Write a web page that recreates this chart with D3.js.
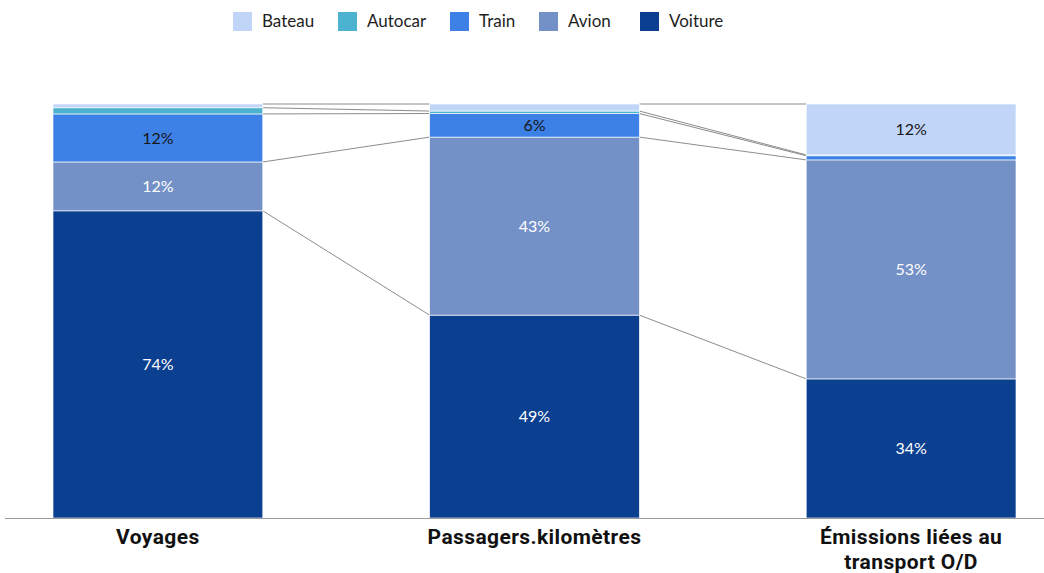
<!DOCTYPE html>
<html>
<head>
<meta charset="utf-8">
<script src="https://cdn.jsdelivr.net/npm/d3@7"></script>
<style>
	body { margin: 0; background: #fff; }
	svg { display: block; }
</style>
</head>
<body>
<div id="chart"></div>
<script>
// categories (x) and modes (stack order, bottom to top)
const categories = ["Voyages", "Passagers.kilomètres", "Émissions liées au|transport O/D"];
const modes = ["Voiture", "Avion", "Train", "Autocar", "Bateau"];
const legendOrder = ["Bateau", "Autocar", "Train", "Avion", "Voiture"];

// shares in %
const voiture = [74.2, 49.0, 33.6];
const avion = [11.8, 43.0, 52.9];
const train = [11.6, 5.7, 1.0];
const autocar = [1.5, 0.6, 0.2];
const bateau = [0.9, 1.7, 12.3];

const colors = {
	Bateau: "#c1d5f9",
	Autocar: "#4bb3d0",
	Train: "#3d81e6",
	Avion: "#7390c7",
	Voiture: "#0b3f8f"
};
const darkText = {Bateau: true, Autocar: true, Train: true, Avion: false, Voiture: false};

const width = 1044, height = 573;
const margin = {top: 104, bottom: 55, left: 53, right: 28};

const svg = d3.select("#chart").append("svg")
	.attr("width", width)
	.attr("height", height);

const seriesValues = {Voiture: voiture, Avion: avion, Train: train, Autocar: autocar, Bateau: bateau};
const table = categories.map((c, i) => {
	let row = {cat: c};
	modes.forEach(m => row[m] = seriesValues[m][i]);
	return row;
});

const stack = d3.stack().keys(modes)(table);

const x = d3.scaleBand()
	.domain(categories)
	.range([margin.left, width - margin.right])
	.paddingInner(0.443)
	.paddingOuter(0);

const y = d3.scaleLinear()
	.domain([0, 100])
	.range([height - margin.bottom, margin.top]);

// connectors between bars
const connectors = svg.append("g");
stack.forEach(layer => {
	for (let i = 0; i < categories.length - 1; i++) {
		connectors.append("line")
			.attr("x1", x(categories[i]) + x.bandwidth())
			.attr("x2", x(categories[i + 1]))
			.attr("y1", y(layer[i][1]))
			.attr("y2", y(layer[i + 1][1]))
			.attr("stroke", "#8c8c8c")
			.attr("stroke-width", 1);
	}
});

// bars
const layers = svg.append("g")
	.selectAll("g")
	.data(stack)
	.enter()
	.append("g")
	.attr("fill", d => colors[d.key]);

layers.selectAll("rect")
	.data(d => d)
	.enter()
	.append("rect")
	.attr("x", d => x(d.data.cat))
	.attr("y", d => y(d[1]))
	.attr("width", x.bandwidth())
	.attr("height", d => y(d[0]) - y(d[1]))
	.attr("stroke", "#fff")
	.attr("stroke-width", 0.8)
	.attr("stroke-opacity", 0.8);

// value labels
layers.each(function (layer) {
	d3.select(this).selectAll("text")
		.data(layer.filter(d => d[1] - d[0] >= 5))
		.enter()
		.append("text")
		.attr("x", d => x(d.data.cat) + x.bandwidth() / 2)
		.attr("y", d => (y(d[0]) + y(d[1])) / 2)
		.attr("dy", "0.35em")
		.attr("text-anchor", "middle")
		.attr("fill", darkText[layer.key] ? "#161616" : "#fff")
		.style("font", "16px Lato")
		.text(d => Math.round(d[1] - d[0]) + "%");
});

// baseline
svg.append("line")
	.attr("x1", 5)
	.attr("x2", width)
	.attr("y1", y(0) + 0.5)
	.attr("y2", y(0) + 0.5)
	.attr("stroke", "#9a9a9a")
	.attr("stroke-width", 1.2);

// x labels, one text per line
const xLabels = svg.append("g");
categories.forEach(c => {
	c.split("|").forEach((part, j) => {
		xLabels.append("text")
			.attr("x", x(c) + x.bandwidth() / 2)
			.attr("y", y(0) + 26 + j * 25)
			.attr("text-anchor", "middle")
			.attr("fill", "#111")
			.style("font", "bold 21px Roboto")
			.style("letter-spacing", "0.4px")
			.text(part);
	});
});

// legend
const legendX = [233, 338, 450, 539, 640];
const legend = svg.append("g");
legendOrder.forEach((m, i) => {
	let g = legend.append("g").attr("transform", `translate(${legendX[i]},12)`);
	g.append("rect")
		.attr("width", 19)
		.attr("height", 19)
		.attr("fill", colors[m]);
	g.append("text")
		.attr("x", 29)
		.attr("y", 15)
		.attr("fill", "#1e1e1e")
		.style("font", "17px Lato")
		.text(m);
});
</script>
</body>
</html>
